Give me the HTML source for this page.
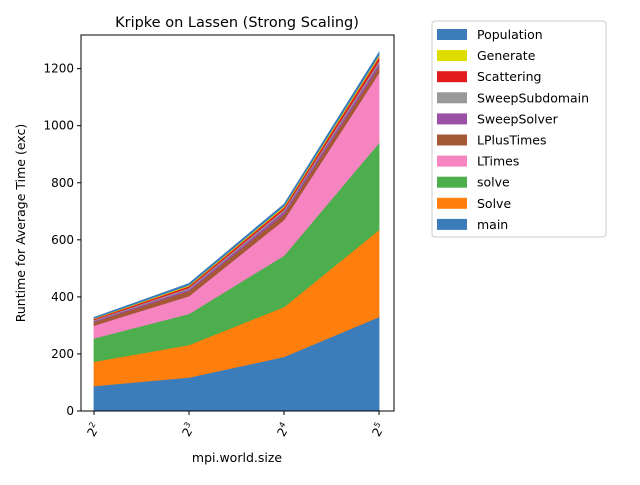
<!DOCTYPE html>
<html><head><meta charset="utf-8"><style>
body{margin:0;background:#fff;font-family:"Liberation Sans","DejaVu Sans",sans-serif;}
</style></head><body>
<svg id="chart" width="640" height="480" viewBox="0 0 640 480" xmlns="http://www.w3.org/2000/svg" font-family="DejaVu Sans, Liberation Sans, sans-serif">
<rect width="640" height="480" fill="#fff"/>
<text x="237" y="27" text-anchor="middle" font-size="14.5">Kripke on Lassen (Strong Scaling)</text>
<g id="areas"></g>
<rect x="81" y="35" width="313" height="376" fill="none" stroke="#000" stroke-width="1"/>
<g id="axes" font-size="12"></g>
<text x="237" y="462" text-anchor="middle" font-size="12.5">mpi.world.size</text>
<text transform="translate(25,223) rotate(-90)" text-anchor="middle" font-size="12.5">Runtime for Average Time (exc)</text>
<g id="legend"></g>
</svg>
<script>
const categories=[4,8,16,32];
const xTickLabels=["2","3","4","5"];
const yTicks=[0,200,400,600,800,1000,1200];
const seriesNames=["main","Solve","solve","LTimes","LPlusTimes","SweepSolver","SweepSubdomain","Scattering","Generate","Population"];
const colors=["#3a7dba","#ff7f0e","#4cae4c","#f584c0","#a45834","#9a50a4","#999999","#e41b1c","#dddd00","#3a7dba"];
const main=[88,118,190,330];
const Solve=[85,114,175,305];
const solve=[82,109,180,305];
const LTimes=[45,62,125,245];
const LPlusTimes=[12,18,20,22];
const SweepSolver=[4,6,10,12];
const SweepSubdomain=[3,5,6,8];
const Scattering=[4,6,8,14];
const Generate=[2,3,4,6];
const Population=[3,6,7,10];
const seriesValues=[main,Solve,solve,LTimes,LPlusTimes,SweepSolver,SweepSubdomain,Scattering,Generate,Population];

const NS="http://www.w3.org/2000/svg";
function xs(v){return 94+(Math.log2(v)-2)*95;}
function ys(v){return 411-v*0.2853;}
const areas=document.getElementById('areas');
let base=categories.map(()=>0);
seriesValues.forEach((vals,i)=>{
  const top=base.map((b,j)=>b+vals[j]);
  let d="M"+categories.map((c,j)=>xs(c)+","+ys(top[j])).join(" L");
  for(let j=categories.length-1;j>=0;j--) d+=" L"+xs(categories[j])+","+ys(base[j]);
  d+=" Z";
  const p=document.createElementNS(NS,'path');
  p.setAttribute('d',d);p.setAttribute('fill',colors[i]);p.setAttribute('stroke',colors[i]);p.setAttribute('stroke-width','0.8');
  
  
  areas.appendChild(p);
  base=top;
});
const axes=document.getElementById('axes');
yTicks.forEach(t=>{
  const y=ys(t);
  const l=document.createElementNS(NS,'line');
  l.setAttribute('x1',77);l.setAttribute('x2',81);l.setAttribute('y1',y);l.setAttribute('y2',y);l.setAttribute('stroke','#000');
  
  
  axes.appendChild(l);
  const tx=document.createElementNS(NS,'text');
  tx.setAttribute('x',74);tx.setAttribute('y',y+4);tx.setAttribute('text-anchor','end');tx.textContent=t;
  
  
  axes.appendChild(tx);
});
categories.forEach((c,j)=>{
  const x=xs(c);
  const l=document.createElementNS(NS,'line');
  l.setAttribute('x1',x);l.setAttribute('x2',x);l.setAttribute('y1',411);l.setAttribute('y2',415);l.setAttribute('stroke','#000');
  
  
  axes.appendChild(l);
  const tx=document.createElementNS(NS,'text');
  tx.setAttribute('transform','translate('+(x+3)+',432) rotate(-60)');tx.setAttribute('text-anchor','middle');
  tx.innerHTML='2<tspan font-size="8" dy="-5">'+xTickLabels[j]+'</tspan>';
  
  
  axes.appendChild(tx);
});
const lg=document.getElementById('legend');
const box=document.createElementNS(NS,'rect');
box.setAttribute('x',432);box.setAttribute('y',21);box.setAttribute('width',174);box.setAttribute('height',216);box.setAttribute('rx',3);
box.setAttribute('fill','#fff');box.setAttribute('stroke','#ccc');


lg.appendChild(box);
for(let k=0;k<seriesNames.length;k++){
  const i=seriesNames.length-1-k;
  const y=29+k*21.1;
  const r=document.createElementNS(NS,'rect');
  r.setAttribute('x',437);r.setAttribute('y',y);r.setAttribute('width',30);r.setAttribute('height',11);r.setAttribute('fill',colors[i]);
  
  
  lg.appendChild(r);
  const t=document.createElementNS(NS,'text');
  t.setAttribute('x',477);t.setAttribute('y',y+10);t.setAttribute('font-size','12.5');t.textContent=seriesNames[i];
  
  
  lg.appendChild(t);
}
</script>
</body></html>
